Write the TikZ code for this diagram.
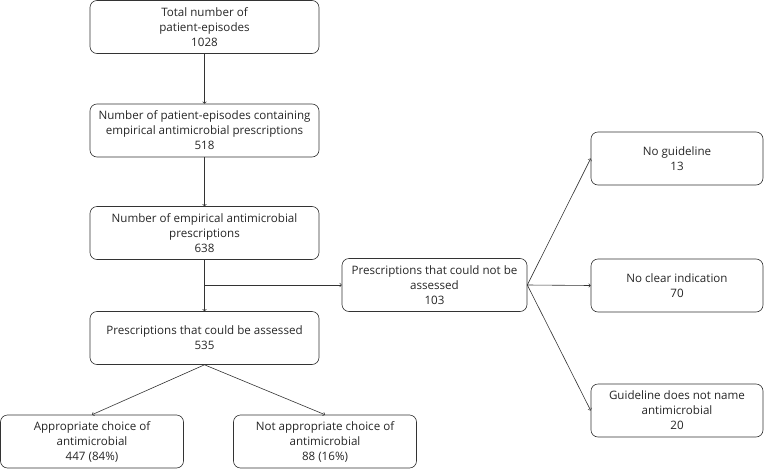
\documentclass[tikz,border=0pt]{standalone}
\usepackage{fontspec}
\setmainfont{Open Sans}
\usetikzlibrary{arrows,positioning}

\begin{document}
\begin{tikzpicture}[
        x=1pt, y=-1pt,
        box/.style={draw=black!80, line width=0.6pt, rounded corners=7pt,
          align=center, minimum height=53pt, inner sep=2pt,
          font=\fontsize{11.6}{15}\selectfont, text=black!85},
        main box/.style={box, minimum width=229pt},
        side box/.style={box, minimum width=172pt},
        end box/.style={box, minimum width=183pt},
        link/.style={->, >=to, line width=0.6pt, draw=black!80}
      ]
      \useasboundingbox (0,0) rectangle (764,469);

      % main column
      \node[main box] (total) at (204.5,27) {Total number of\\patient-episodes\\1028};
      \node[main box] (episodes) at (204.5,130.5) {Number of patient-episodes containing\\empirical antimicrobial prescriptions\\518};
      \node[main box] (prescr) at (204.5,233) {Number of empirical antimicrobial\\prescriptions\\638};
      \node[main box] (assessed) at (204.5,338) {Prescriptions that could be assessed\\535};

      % not assessed branch
      \node[box, minimum width=185pt] (notassessed) at (434.5,285) {Prescriptions that could not be\\assessed\\103};
      \node[side box] (noguide) at (677,158.5) {No guideline\\13};
      \node[side box] (noclear) at (677,285.5) {No clear indication\\70};
      \node[side box] (noname) at (677,410.5) {Guideline does not name\\antimicrobial\\20};

      % outcome boxes
      \node[end box] (approp) at (92,441.5) {Appropriate choice of\\antimicrobial\\447 (84\%)};
      \node[end box] (notapprop) at (325,441.5) {Not appropriate choice of\\antimicrobial\\88 (16\%)};

      \coordinate (split) at (prescr.south |- notassessed.west);

      \draw[link] (total) -- (episodes);
      \draw[link] (episodes) -- (prescr);
      \draw[link] (prescr) -- (assessed);
      \draw[link] (split) -- (notassessed);
      \draw[link] (assessed.south) -- (approp.north);
      \draw[link] (assessed.south) -- (notapprop.north);
      \draw[link] (notassessed.east) -- (noguide.west);
      \draw[link] (notassessed.east) -- (noclear.west);
      \draw[link] (notassessed.east) -- (noname.west);
\end{tikzpicture}
\end{document}
